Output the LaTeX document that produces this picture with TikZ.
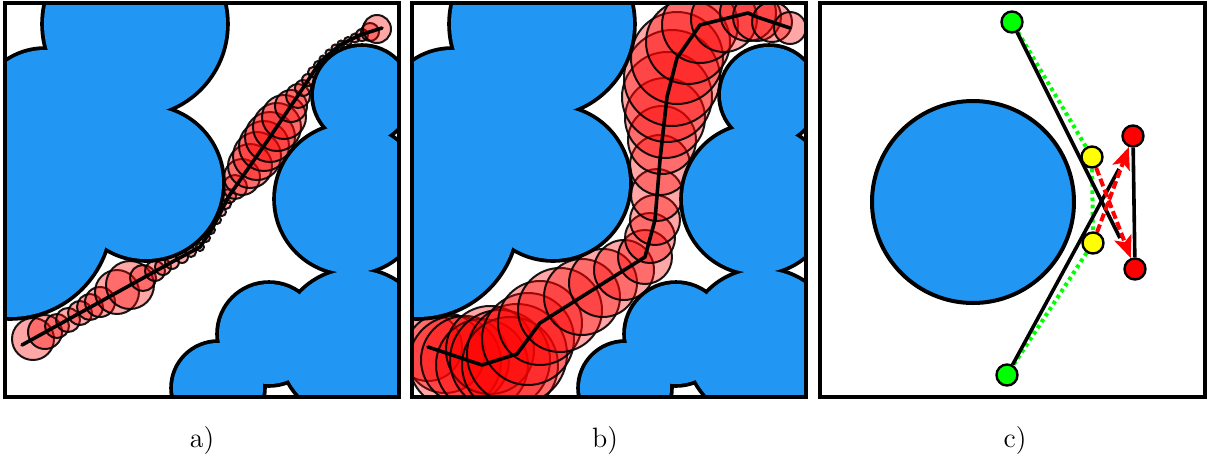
\documentclass[tikz,border=0pt]{standalone}
\usetikzlibrary{arrows.meta}
\definecolor{obsblue}{HTML}{2196F3}
\definecolor{nodegreen}{HTML}{00FF00}
\definecolor{nodeyellow}{HTML}{FFFF00}
\definecolor{nodered}{HTML}{FF0000}
\pgfdeclarelayer{bg}
\pgfsetlayers{bg,main}
\tikzset{
  obsline/.style={draw=black, line width=3.8pt},
  obsfill/.style={fill=obsblue},
  tubecircle/.style={fill=red, fill opacity=0.35, draw=black, draw opacity=0.9, line width=1pt},
  pathline/.style={draw=black, line width=1.8pt, line join=round, line cap=round},
  panelframe/.style={draw=black, line width=1.8pt},
  waypoint/.style={circle, draw=black, line width=1.2pt, minimum size=10.5pt, inner sep=0pt},
  blackline/.style={draw=black, line width=1.8pt},
  greendots/.style={draw=nodegreen, line width=2pt, dash pattern=on 1.8pt off 1.8pt},
  redarrow/.style={draw=nodered, line width=2pt, dash pattern=on 4pt off 1.8pt,
    -{Stealth[length=11pt,width=9pt,inset=2.5pt]}},
  panellabel/.style={font=\fontsize{14}{16}\selectfont, inner sep=0pt}
}
\def\obslist{135/24/91,45/118/68,10/217/100,146/183/76,362/95/48,350/199/74,355/345/75,269/334/50,218/388/45}
\def\fillerlist{105/150/45}
\newcommand\obstaclesfig{%
  \foreach \cx/\cy/\cr in \obslist {\draw[obsline] (\cx,\cy) circle[radius=\cr];}%
  \foreach \cx/\cy/\cr in \obslist {\fill[obsfill] (\cx,\cy) circle[radius=\cr];}%
  \foreach \cx/\cy/\cr in \fillerlist {\fill[obsfill] (\cx,\cy) circle[radius=\cr];}%
}
\begin{document}
\begin{tikzpicture}[x=0.5pt,y=-0.5pt]
\useasboundingbox (0,0) rectangle (1207,468);
% ---------- panel a ----------
\begin{scope}
  \clip (5,3) rectangle (399,397);
  \foreach \cx/\cy/\cr in {33/339/21,45/332/17,57/326/12,68/320/12,80/313/12,90/307/13,100/302/15,
      117/292/22,130/285/24,143/278/13,155/271/10,163/267/8,172/262/7,182/257/6,191/252/5,200/247/4,
      206/238/4,211/230/4,217/220/4,222/212/4,226/204/5,229/196/7,235/187/12,242/177/18,250/166/22,
      257/156/24,264/146/25,270/137/25,277/127/24,284/117/22,291/106/16,298/96/12,303/88/8,
      308/80/6,313/72/5,318/65/4,323/59/3.5,329/53/3.5,335/48/3.5,341/44/3.5,348/41/4,355/38/4.5,
      362/35/6,370/32/9,377/29/14}
    {\path[tubecircle] (\cx,\cy) circle[radius=\cr];}
  \draw[pathline] (22,345) -- (172,262) -- (200,247) -- (212,229) -- (229,196) -- (268,140)
    -- (303,88) -- (320,62) -- (340,45) -- (360,35) -- (382,28);
  \obstaclesfig
\end{scope}
\draw[panelframe] (5,3) rectangle (399,397);
% ---------- panel b ----------
\begin{scope}
  \clip (412,3) rectangle (806,397);
  \foreach \cx/\cy/\cr in {428/347/34,445/353/40,455/362/46,465/360/44,482/365/46,490/350/44,
      500/360/50,510/365/48,517/354/50,
      528/339/46,540/323/42,560/310/42,582/297/38,603/283/34,624/270/30,645/257/27,650/238/25,
      655/220/25,657/195/26,660/165/30,662/140/34,665/118/40,667/97/45,672/78/48,677/58/46,
      688/42/42,700/25/38,724/19/33,748/13/28,757/17/24,772/22/20,790/28/16}
    {\path[tubecircle] (\cx,\cy) circle[radius=\cr];}
  \draw[pathline] (428,347) -- (482,365) -- (517,354) -- (540,323) -- (645,257) -- (655,220)
    -- (660,160) -- (667,97) -- (677,58) -- (700,25) -- (748,13) -- (757,17) -- (790,28);
  \begin{scope}[shift={(407,0)}]
    \obstaclesfig
  \end{scope}
\end{scope}
\draw[panelframe] (412,3) rectangle (806,397);
% ---------- panel c ----------
\draw[panelframe] (820,3) rectangle (1205,397);
\draw[obsfill, draw=black, line width=2pt] (973,202) circle[radius=101];
\node[waypoint, fill=nodegreen] (g1) at (1012,22) {};
\node[waypoint, fill=nodegreen] (g2) at (1007,375) {};
\node[waypoint, fill=nodeyellow] (y1) at (1092,157) {};
\node[waypoint, fill=nodeyellow] (y2) at (1093,243) {};
\node[waypoint, fill=nodered] (r1) at (1133,136) {};
\node[waypoint, fill=nodered] (r2) at (1135,269) {};
\coordinate (e1) at (1120,238);
\coordinate (e2) at (1119,169);
\begin{pgfonlayer}{bg}
  \draw[greendots] (g1) -- (y1) -- (y2) -- (g2);
  \draw[blackline] (g1) -- (e1);
  \draw[blackline] (g2) -- (e2);
  \draw[blackline] (r1) -- (r2);
  \draw[redarrow] (y1) -- (r2);
  \draw[redarrow] (y2) -- (r1);
\end{pgfonlayer}
% ---------- labels ----------
\node[panellabel] (la) at (202,441) {a)};
\node[panellabel] (lb) at (605,441) {b)};
\node[panellabel] (lc) at (1015,441) {c)};
\end{tikzpicture}
\end{document}
